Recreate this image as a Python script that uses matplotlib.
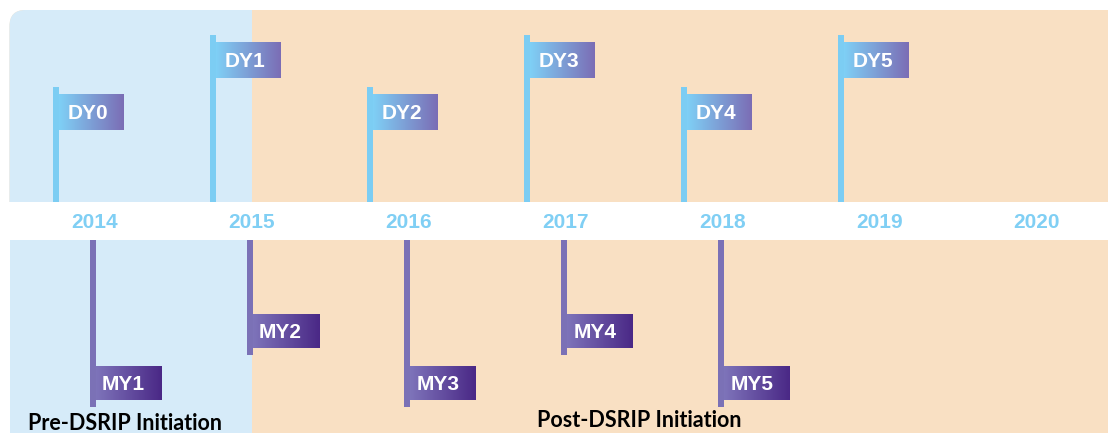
import numpy as np
import matplotlib.pyplot as plt
from matplotlib.patches import Rectangle, FancyBboxPatch
from matplotlib.colors import LinearSegmentedColormap

# timeline data
years = [2014, 2015, 2016, 2017, 2018, 2019, 2020]
dy_labels = ["DY0", "DY1", "DY2", "DY3", "DY4", "DY5"]
dy_years = [2014, 2015, 2016, 2017, 2018, 2019]
dy_tier = [1, 2, 1, 2, 1, 2]  # 1 = short pole, 2 = tall pole
my_labels = ["MY1", "MY2", "MY3", "MY4", "MY5"]
my_years = [2014, 2015, 2016, 2017, 2018]
my_tier = [2, 1, 2, 1, 2]
phase_labels = ["Pre-DSRIP Initiation", "Post-DSRIP Initiation"]
initiation_year = 2015

# styling (y in pixels from the top, x in years)
PX = 157.08  # pixels per year
BLUE_BG = "#d6ebf9"
ORANGE_BG = "#f9e0c3"
DY_POLE = "#7ccdf3"
MY_POLE = "#7b71b6"
YEAR_COLOR = "#80cff4"
DY_CMAP = LinearSegmentedColormap.from_list("dy", ["#7fd0f6", "#7b6db5"])
MY_CMAP = LinearSegmentedColormap.from_list("my", ["#7e74ba", "#4a2886"])
DY_TOP = {1: 87, 2: 35}
MY_BOTTOM = {1: 355, 2: 407}
TOP_Y0, BAND_Y0, BAND_Y1 = 10, 201.7, 240
LABEL_FONT = dict(family="Liberation Sans", weight="bold", fontsize=15)
PHASE_FONT = dict(family="Lato", weight="bold", fontsize=15.5, color="black")

plt.rcParams["font.family"] = ["Liberation Sans", "DejaVu Sans"]

fig = plt.figure(figsize=(11.08, 4.33), dpi=100)
ax = fig.add_axes([0, 0, 1, 1])
x_left = years[0] - 94.5 / PX
x_right = years[0] + (1108 - 94.5) / PX
panel_left = x_left + 9.5 / PX

gradient = np.linspace(0, 1, 256)[None, :]


def px(n):
    return n / PX


# top panel backgrounds
ax.add_patch(FancyBboxPatch((panel_left, TOP_Y0), x_right + 1 - panel_left, 230,
                            boxstyle="round,pad=0,rounding_size=%f" % px(16),
                            mutation_aspect=PX, fc=ORANGE_BG, ec="none"))
ax.add_patch(FancyBboxPatch((panel_left, TOP_Y0), initiation_year + 0.3 - panel_left, 230,
                            boxstyle="round,pad=0,rounding_size=%f" % px(16),
                            mutation_aspect=PX, fc=BLUE_BG, ec="none"))
ax.add_patch(Rectangle((initiation_year, TOP_Y0), 0.4, 230, fc=ORANGE_BG, ec="none"))

# white band and bottom panel
ax.add_patch(Rectangle((x_left - 1, BAND_Y0), x_right - x_left + 2, BAND_Y1 - BAND_Y0,
                       fc="white", ec="none"))
ax.add_patch(Rectangle((panel_left, BAND_Y1), initiation_year - panel_left, 300,
                       fc=BLUE_BG, ec="none"))
ax.add_patch(Rectangle((initiation_year, BAND_Y1), x_right + 1 - initiation_year, 300,
                       fc=ORANGE_BG, ec="none"))

# year labels
for yr in years:
    ax.text(yr, 228, str(yr), ha="center", va="baseline", color=YEAR_COLOR, **LABEL_FONT)

# DY flags above the band
for lab, yr, tier in zip(dy_labels, dy_years, dy_tier):
    top = DY_TOP[tier]
    pole_x = yr - px(39) - px(3)
    ax.add_patch(Rectangle((pole_x, top), px(6), BAND_Y0 - top, fc=DY_POLE, ec="none"))
    fx = pole_x + px(6)
    ax.imshow(gradient, cmap=DY_CMAP, aspect="auto", interpolation="bilinear",
              extent=(fx, fx + px(65), top + 43, top + 7), zorder=2)
    ax.text(fx + px(9), top + 32, lab, ha="left", va="baseline", color="white",
            zorder=3, **LABEL_FONT)

# MY flags below the band
for lab, yr, tier in zip(my_labels, my_years, my_tier):
    bottom = MY_BOTTOM[tier]
    pole_x = yr - px(1.5) - px(3)
    ax.add_patch(Rectangle((pole_x, BAND_Y1), px(6), bottom - BAND_Y1, fc=MY_POLE, ec="none"))
    fx = pole_x + px(6)
    ax.imshow(gradient, cmap=MY_CMAP, aspect="auto", interpolation="bilinear",
              extent=(fx, fx + px(66), bottom - 7, bottom - 41), zorder=2)
    ax.text(fx + px(6), bottom - 17, lab, ha="left", va="baseline", color="white",
            zorder=3, **LABEL_FONT)

# phase labels
ax.text(x_left + px(125.5), 429.5, phase_labels[0], ha="center", va="baseline", **PHASE_FONT)
ax.text(x_left + px(639.5), 427, phase_labels[1], ha="center", va="baseline", **PHASE_FONT)

ax.set_xlim(x_left, x_right)
ax.set_ylim(433, 0)
ax.axis("off")

fig.savefig("out.png", dpi=100)
